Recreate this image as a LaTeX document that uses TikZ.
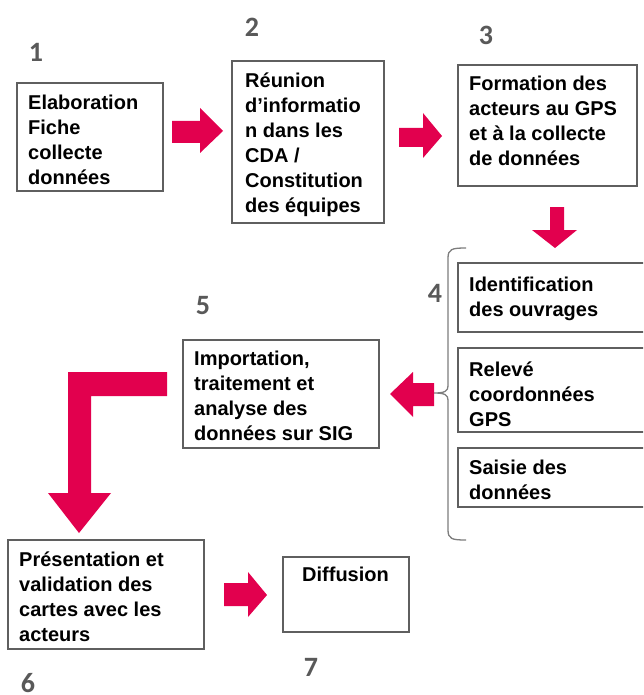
\documentclass[tikz,border=0pt]{standalone}
\usepackage{fontspec}
\setmainfont{Liberation Sans}
\newfontfamily\numfont{Carlito}
\usepackage{tikz}
\usepackage{xcolor}
\definecolor{boxgray}{RGB}{95,95,95}
\definecolor{bracegray}{RGB}{125,125,125}
\definecolor{numgray}{RGB}{89,89,89}
\definecolor{arrowpink}{RGB}{226,0,78}
\tikzset{
    box/.style={draw=boxgray, line width=1.7pt},
    lbl/.style={font=\bfseries\fontsize{20}{25}\selectfont, align=left, inner sep=0pt, anchor=north west},
    num/.style={font=\numfont\bfseries\fontsize{28}{28}\selectfont, text=numgray, inner sep=0pt},
    pinkarrow/.style={fill=arrowpink}
}

\begin{document}
\begin{tikzpicture}[x=1pt, y=-1pt]
    \clip (0, 0) rectangle (643, 695);
    % Boxes
    \draw [box] (17, 83) rectangle (163, 191);
    \draw [box] (232, 61) rectangle (384, 223);
    \draw [box] (458, 65) rectangle (637, 186);
    \draw [box] (458, 263) rectangle (650, 332);
    \draw [box] (458, 348) rectangle (650, 432);
    \draw [box] (458, 448) rectangle (650, 507);
    \draw [box] (183, 340) rectangle (379, 448);
    \draw [box] (8, 540) rectangle (204, 649);
    \draw [box] (283, 557) rectangle (409, 632);
    % Texts
    \node (elab) [lbl] at (28, 95) {Elaboration\\Fiche\\collecte\\données};
    \node (reunion) [lbl] at (245, 73) {Réunion\\d’informatio\\n dans les\\CDA /\\Constitution\\des équipes};
    \node (formation) [lbl] at (469, 76) {Formation des\\acteurs au GPS\\et à la collecte\\de données};
    \node (ident) [lbl] at (469, 277) {Identification\\des ouvrages};
    \node (releve) [lbl] at (469, 362) {Relevé\\coordonnées\\GPS};
    \node (saisie) [lbl] at (469, 460) {Saisie des\\données};
    \node (import) [lbl] at (194, 351) {Importation,\\traitement et\\analyse des\\données sur SIG};
    \node (present) [lbl] at (19, 552) {Présentation et\\validation des\\cartes avec les\\acteurs};
    \node (diffusion) [lbl] at (302, 567) {Diffusion};
    % Numbers
    \node (n1) [num] at (36, 52) {1};
    \node (n2) [num] at (252, 27) {2};
    \node (n3) [num] at (486, 35) {3};
    \node (n4) [num] at (435, 293) {4};
    \node (n5) [num] at (203, 306) {5};
    \node (n6) [num] at (28, 683) {6};
    \node (n7) [num] at (311, 667) {7};
    % Brace
    \draw [bracegray, line width=1.3pt] (466, 248) .. controls (452, 248) and (448, 249) .. (448, 258)
        -- (448, 386) .. controls (448, 391) and (445, 393) .. (434, 393)
        .. controls (445, 393) and (448, 395) .. (448, 400)
        -- (448, 530) .. controls (448, 539) and (452, 540) .. (466, 540);
    % Arrows
    \fill [pinkarrow] (172, 121) -- (200, 121) -- (200, 108) -- (223, 131) -- (200, 153) -- (200, 143) -- (172, 143) -- cycle;
    \fill [pinkarrow] (399, 128) -- (423, 128) -- (423, 113) -- (442, 136) -- (423, 158) -- (423, 147) -- (399, 147) -- cycle;
    \fill [pinkarrow] (550, 207) -- (564, 207) -- (564, 230) -- (577, 230) -- (555, 248) -- (532, 230) -- (550, 230) -- cycle;
    \fill [pinkarrow] (434, 383) -- (413, 383) -- (413, 372) -- (390, 394) -- (413, 417) -- (413, 406) -- (434, 406) -- cycle;
    \fill [pinkarrow] (167, 372) -- (167, 396) -- (91, 396) -- (91, 493) -- (111, 493) -- (79, 533) -- (48, 493) -- (68, 493) -- (68, 372) -- cycle;
    \fill [pinkarrow] (224, 583) -- (248, 583) -- (248, 572) -- (267, 595) -- (248, 617) -- (248, 606) -- (224, 606) -- cycle;
\end{tikzpicture}
\end{document}
